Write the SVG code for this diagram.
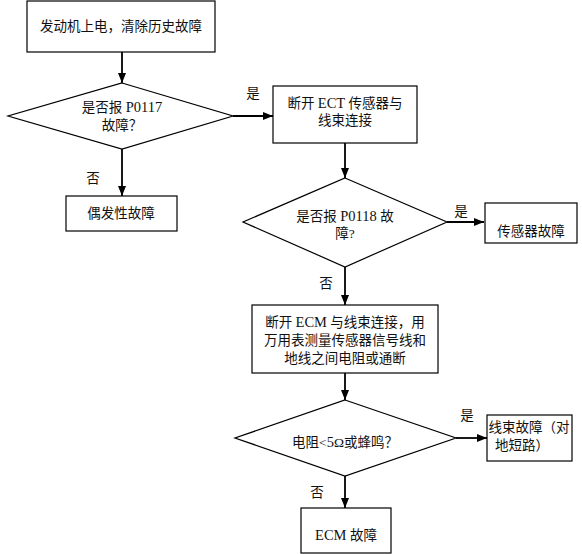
<svg xmlns="http://www.w3.org/2000/svg" width="582" height="554" viewBox="0 0 582 554">
<defs>
<marker id="ah" markerWidth="10" markerHeight="8" refX="10" refY="4" orient="auto" markerUnits="userSpaceOnUse">
<path d="M0,0 L10,4 L0,8 Z" fill="#000"/>
</marker>
<style>
.box{fill:#fff;stroke:#000;stroke-width:1.2}
.t{font-family:"Liberation Serif","Noto Sans CJK SC",serif;font-size:13.5px;fill:#111;text-anchor:middle}
.l{font-family:"Liberation Serif","Noto Sans CJK SC",serif;font-size:13.5px;fill:#111;text-anchor:middle}
.lat{font-size:14.5px}
.c{fill:none;stroke:#000;stroke-width:1.8;marker-end:url(#ah)}
</style>
</defs>
<rect width="582" height="554" fill="#fff"/>
<g id="connectors">
<line class="c" x1="122" y1="52" x2="122" y2="83"/>
<line class="c" x1="233" y1="116" x2="273" y2="116"/>
<line class="c" x1="122" y1="149" x2="122" y2="196"/>
<line class="c" x1="345" y1="143" x2="345" y2="178"/>
<line class="c" x1="447" y1="222" x2="484" y2="222"/>
<line class="c" x1="345" y1="267" x2="345" y2="305"/>
<line class="c" x1="345" y1="373" x2="345" y2="400"/>
<line class="c" x1="456" y1="438" x2="487" y2="438"/>
<line class="c" x1="345" y1="476" x2="345" y2="508"/>
<text class="l" x="253" y="98">是</text>
<text class="l" x="93" y="183">否</text>
<text class="l" x="461" y="216">是</text>
<text class="l" x="326" y="288">否</text>
<text class="l" x="467" y="420">是</text>
<text class="l" x="317" y="497">否</text>
</g>
<g id="n1">
<rect class="box" x="27" y="1" width="188" height="51"/>
<text class="t" x="121" y="31">发动机上电，清除历史故障</text>
</g>
<g id="n2">
<polygon class="box" points="122,83 233,116 122,149 8,116"/>
<text class="t" x="122" y="112">是否报 <tspan class="lat">P0117</tspan></text>
<text class="t" x="122" y="130">故障？</text>
</g>
<g id="n3">
<rect class="box" x="66" y="196" width="111" height="35"/>
<text class="t" x="121" y="218">偶发性故障</text>
</g>
<g id="n4">
<rect class="box" x="273" y="86" width="144" height="57"/>
<text class="t" x="345" y="108">断开 <tspan class="lat">ECT</tspan> 传感器与</text>
<text class="t" x="345" y="125">线束连接</text>
</g>
<g id="n5">
<polygon class="box" points="345,178 447,222 345,267 243,222"/>
<text class="t" x="345" y="221">是否报 <tspan class="lat">P0118</tspan> 故</text>
<text class="t" x="345" y="238">障?</text>
</g>
<g id="n6">
<rect class="box" x="485" y="203" width="92" height="40"/>
<text class="t" x="531" y="236">传感器故障</text>
</g>
<g id="n7">
<rect class="box" x="252" y="305" width="186" height="68"/>
<text class="t" x="345" y="327">断开 <tspan class="lat">ECM</tspan> 与线束连接，用</text>
<text class="t" x="345" y="345">万用表测量传感器信号线和</text>
<text class="t" x="345" y="363">地线之间电阻或通断</text>
</g>
<g id="n8">
<polygon class="box" points="345,400 456,438 345,476 235,438"/>
<text class="t" x="345" y="447">电阻&lt;<tspan class="lat">5</tspan>Ω或蜂鸣？</text>
</g>
<g id="n9">
<rect class="box" x="487" y="415" width="85" height="46"/>
<text class="t" x="529" y="432">线束故障（对</text>
<text class="t" x="522" y="450">地短路）</text>
</g>
<g id="n10">
<rect class="box" x="301" y="508" width="90" height="45"/>
<text class="t" x="346" y="540"><tspan class="lat">ECM</tspan> 故障</text>
</g>
</svg>
